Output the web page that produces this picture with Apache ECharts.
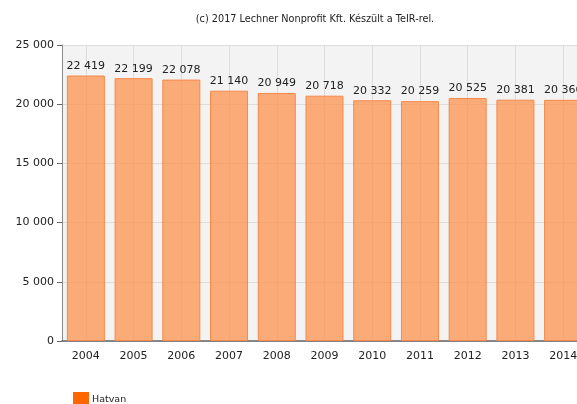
<!DOCTYPE html>
<html>
<head>
<meta charset="utf-8">
<script src="https://cdn.jsdelivr.net/npm/echarts@6/dist/echarts.min.js"></script>
<style>html,body{margin:0;padding:0;background:#fff;overflow:hidden;width:577px;height:404px;}#c{width:600px;height:404px;}</style>
</head>
<body>
<div id="c"></div>
<script>
const years = ['2004','2005','2006','2007','2008','2009','2010','2011','2012','2013','2014'];
const population = [22419, 22199, 22078, 21140, 20949, 20718, 20332, 20259, 20525, 20381, 20366];
const seriesName = 'Hatvan';
const titleText = '(c) 2017 Lechner Nonprofit Kft. Készült a TeIR-rel.';

function fmt(v){ return String(v).replace(/\B(?=(\d{3})+(?!\d))/g, ' '); }

const chart = echarts.init(document.getElementById('c'));
chart.setOption({
  animation: false,
  textStyle: { fontFamily: 'DejaVu Sans' },
  title: {
    text: titleText, left: 310, top: 9, textAlign: 'center',
    textStyle: { fontSize: 9.7, fontWeight: 'normal', color: '#222', fontFamily: 'DejaVu Sans' }
  },
  grid: { left: 62, top: 45, right: 13, bottom: 63, show: true, backgroundColor: '#f3f3f3', borderWidth: 0 },
  legend: {
    data: [{ name: seriesName, itemStyle: { color: '#ff6600', borderWidth: 0 } }],
    left: 68, top: 387, icon: 'rect', itemWidth: 16, itemHeight: 16, itemGap: 3,
    textStyle: { fontSize: 9.5, color: '#222', padding: [0, 0, 0, -2] }
  },
  xAxis: {
    type: 'category', data: years,
    axisLine: { lineStyle: { color: '#666', width: 1.5 } },
    axisTick: { alignWithLabel: true, length: 5, lineStyle: { color: '#666' } },
    axisLabel: { fontSize: 11, color: '#222', margin: 10 },
    splitLine: { show: true, alignWithLabel: true, lineStyle: { color: '#dcdcdc' } }
  },
  yAxis: {
    type: 'value', min: 0, max: 25000, interval: 5000,
    axisLine: { show: true, lineStyle: { color: '#888' } },
    axisTick: { show: true, length: 5, lineStyle: { color: '#666' } },
    axisLabel: { fontSize: 11, color: '#222', margin: 8, formatter: fmt },
    splitLine: { lineStyle: { color: '#dcdcdc' } }
  },
  series: [{
    name: seriesName, type: 'bar', data: population, barWidth: 38,
    itemStyle: { color: 'rgba(252,150,85,0.78)', borderColor: '#f5884a', borderWidth: 1 },
    label: { show: true, position: 'top', distance: 4, fontSize: 11, color: '#222', formatter: p => fmt(p.value) }
  }]
});
</script>
</body>
</html>
